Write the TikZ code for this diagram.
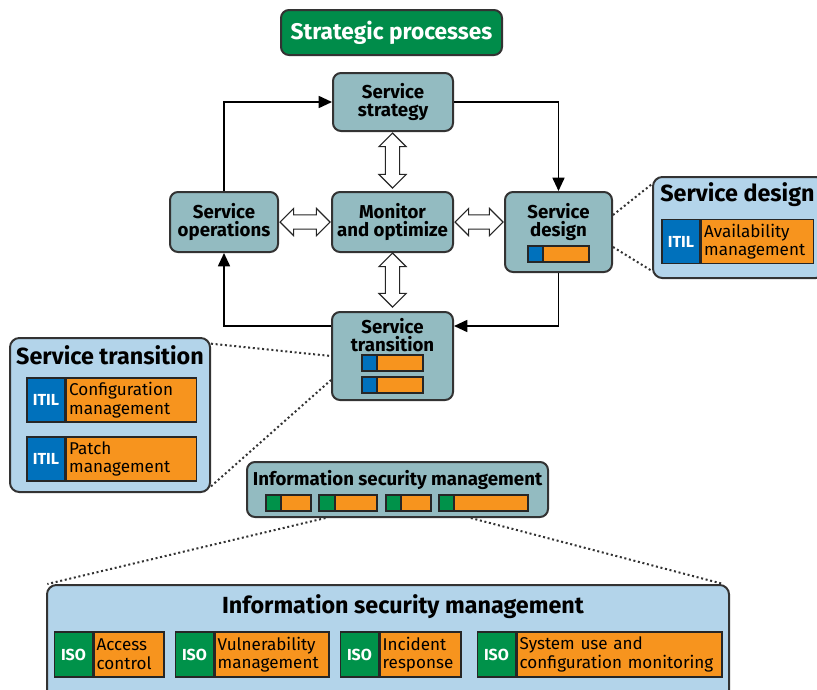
\documentclass[tikz,border=0pt]{standalone}
\usepackage{fontspec}
\setmainfont{Fira Sans}
\usepackage{xcolor}
\usetikzlibrary{positioning, arrows.meta, shapes.arrows}

\definecolor{procteal}{HTML}{93BBC1}
\definecolor{detailblue}{HTML}{B3D4EA}
\definecolor{itilblue}{HTML}{0071BC}
\definecolor{isogreen}{HTML}{00924A}
\definecolor{taskorange}{HTML}{F7941E}
\definecolor{stratgreen}{HTML}{008C4A}

\tikzset{
  process/.style={draw=black!80, line width=1.5pt, fill=procteal, rounded corners=6pt, inner sep=0pt, align=center, font=\bfseries\fontsize{14}{13.5}\selectfont},
  detail/.style={draw=black!80, line width=1.5pt, fill=detailblue, rounded corners=7pt, inner sep=0pt},
  headline/.style={font=\bfseries\fontsize{17.5}{18}\selectfont, inner sep=0pt},
  boxtitle/.style={align=center, inner sep=0pt, font=\bfseries\fontsize{14}{13.5}\selectfont},
  tag/.style={draw=black!85, line width=1.1pt, text=white, font=\bfseries\fontsize{12}{12}\selectfont, minimum width=28.5pt, minimum height=33pt, inner sep=0pt},
  task/.style={draw=black!85, line width=1.1pt, fill=taskorange, align=left, font=\fontsize{12.8}{14}\selectfont, minimum height=33pt, inner xsep=2pt, inner ysep=0pt},
  barpart/.style={draw=black!85, line width=1.1pt},
  flow/.style={line width=1.3pt, -{Triangle[length=10pt, width=9pt]}},
  twoway/.style={double arrow, draw=black!85, line width=0.8pt, fill=white, double arrow head extend=4.9pt, inner xsep=0pt, inner ysep=4.9pt},
  dotlink/.style={dotted, line width=1.5pt, black!80},
}

\begin{document}
\begin{tikzpicture}[x=0.75pt, y=-0.75pt]
\useasboundingbox (0,0) rectangle (817,689);

% the cycle of processes
\node[process, fill=stratgreen, text=white, font=\bfseries\fontsize{17}{17}\selectfont, minimum width=165.75pt, minimum height=33.75pt] (strat) at (391.5,32.5) {Strategic processes};
\node[process, minimum width=90pt, minimum height=43.5pt] (strategy) at (393,102) {Service\\strategy};
\node[process, minimum width=81pt, minimum height=45pt] (ops) at (224,222) {Service\\operations};
\node[process, minimum width=90.75pt, minimum height=45pt] (monitor) at (392.5,222) {Monitor\\and optimize};
\node[process, minimum width=80.25pt, minimum height=60pt] (design) at (558.5,232) {};
\node[boxtitle] (designtext) at (558.5,222) {Service\\design};
\node[process, minimum width=90.75pt, minimum height=66pt] (transition) at (392.5,356) {};
\node[boxtitle] (transtext) at (392.5,335) {Service\\transition};

\draw[barpart, fill=itilblue] (528,246) rectangle (543,262);
\draw[barpart, fill=taskorange] (543,246) rectangle (589,262);
\foreach \y in {355,377} {
  \draw[barpart, fill=itilblue] (362,\y) rectangle (377,\y+16);
  \draw[barpart, fill=taskorange] (377,\y) rectangle (423,\y+16);
}

\draw[flow] (ops.north) |- (strategy.west);
\draw[flow] (strategy.east) -| (design.north);
\draw[flow] (design.south) |- ([yshift=-11.25pt]transition.north east);
\draw[flow] ([yshift=-11.25pt]transition.north west) -| (ops.south);

\node[twoway, rotate=90, minimum height=41.25pt] (sm) at (392.5,160.5) {};
\node[twoway, rotate=90, minimum height=40.5pt] (mt) at (392.5,280) {};
\node[twoway, minimum height=37.5pt] (om) at (305,222) {};
\node[twoway, minimum height=36pt] (md) at (479,222) {};

% service transition details
\node[detail, minimum width=150pt, minimum height=115.5pt] (stdetail) at (110,415) {};
\node[headline] (sttitle) at (110,355) {Service transition};
\node[tag, fill=itilblue] (cfgtag) at (46,400) {ITIL};
\node[task, right=0pt of cfgtag, text width=93.5pt] (cfg) {Configuration\\management};
\node[tag, fill=itilblue] (patchtag) at (46,459) {ITIL};
\node[task, right=0pt of patchtag, text width=93.5pt] (patch) {Patch\\management};

\draw[dotlink] ([yshift=-5pt]stdetail.north east) -- (transition.west);
\draw[dotlink] ([yshift=5pt]stdetail.south east) -- ([yshift=-18pt]transition.west);

% service design details
\node[detail, minimum width=129pt, minimum height=75.75pt] (sddetail) at (739,227.5) {};
\node[headline, anchor=west] (sdtitle) at (660,195) {Service design};
\node[tag, fill=itilblue] (availtag) at (681,241.5) {ITIL};
\node[task, right=0pt of availtag, text width=80pt] (avail) {Availability\\management};

\draw[dotlink] ([yshift=12.75pt]design.east) -- ([yshift=-6pt]sddetail.north west);
\draw[dotlink] ([yshift=-11.25pt]design.east) -- ([yshift=6pt]sddetail.south west);

% information security
\node[process, minimum width=225.75pt, minimum height=41.25pt] (ismsmall) at (397.5,489.5) {};
\node[boxtitle] (ismtext) at (397.5,480) {Information security management};
\foreach \a/\b/\c in {266/281/311, 319/335/377, 386/401/431, 439/454/528} {
  \draw[barpart, fill=isogreen] (\a,495) rectangle (\b,511);
  \draw[barpart, fill=taskorange] (\b,495) rectangle (\c,511);
}

\node[detail, minimum width=511.5pt, minimum height=90pt] (ismbig) at (388,645) {};
\node[headline] (ismtitle) at (403,607) {Information security management};
\node[tag, fill=isogreen, minimum height=33.75pt] (acctag) at (73.5,654.5) {ISO};
\node[task, right=0pt of acctag, minimum height=33.75pt, text width=48.5pt] (acc) {Access\\control};
\node[tag, fill=isogreen, minimum height=33.75pt] (vulntag) at (194.5,654.5) {ISO};
\node[task, right=0pt of vulntag, minimum height=33.75pt, text width=81.5pt] (vuln) {Vulnerability\\management};
\node[tag, fill=isogreen, minimum height=33.75pt] (inctag) at (359.5,654.5) {ISO};
\node[task, right=0pt of inctag, minimum height=33.75pt, text width=56.75pt] (inc) {Incident\\response};
\node[tag, fill=isogreen, minimum height=33.75pt] (systag) at (496.5,654.5) {ISO};
\node[task, right=0pt of systag, minimum height=33.75pt, text width=149.75pt] (sys) {System use and\\configuration monitoring};

\draw[dotlink] ([xshift=-54pt]ismsmall.south) -- ([xshift=1pt]ismbig.north west);
\draw[dotlink] ([xshift=55pt]ismsmall.south) -- ([xshift=-5pt]ismbig.north east);
\end{tikzpicture}
\end{document}
